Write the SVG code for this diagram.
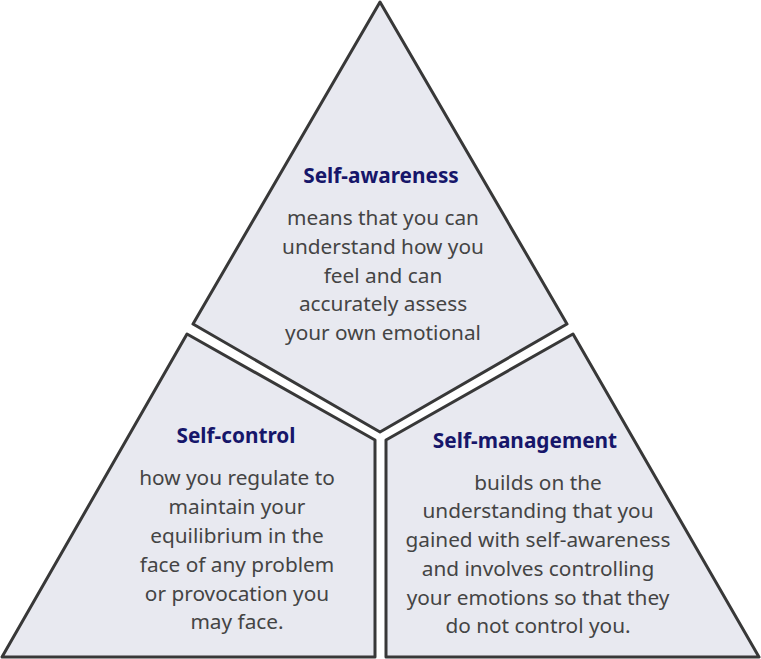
<svg xmlns="http://www.w3.org/2000/svg" width="761" height="659" viewBox="0 0 761 659">
<style>
.shape{fill:#e8e9f0;stroke:#383838;stroke-width:3;stroke-linejoin:round}
.title{font-family:"Noto Sans","Liberation Sans",sans-serif;font-size:20.8px;font-weight:bold;fill:#16166a;text-anchor:middle}
.body{font-family:"Noto Sans","Liberation Sans",sans-serif;font-size:20.8px;fill:#444444;text-anchor:middle}
</style>
<rect width="761" height="659" fill="#ffffff"/>
<g id="self-awareness">
<polygon class="shape" points="380,2 567,324 380,432 193,324"/>
<text class="title" x="381" y="183">Self-awareness</text>
<text class="body" x="383" y="225">means that you can</text>
<text class="body" x="383" y="254">understand how you</text>
<text class="body" x="383" y="283">feel and can</text>
<text class="body" x="383" y="311">accurately assess</text>
<text class="body" x="383" y="340">your own emotional</text>
</g>
<g id="self-control">
<polygon class="shape" points="187,334 375,440 375,657 2,657"/>
<text class="title" x="236" y="443">Self-control</text>
<text class="body" x="237" y="485">how you regulate to</text>
<text class="body" x="237" y="514">maintain your</text>
<text class="body" x="237" y="543">equilibrium in the</text>
<text class="body" x="237" y="572">face of any problem</text>
<text class="body" x="237" y="601">or provocation you</text>
<text class="body" x="237" y="629">may face.</text>
</g>
<g id="self-management">
<polygon class="shape" points="573,334 759,657 386,657 386,440"/>
<text class="title" x="525" y="448">Self-management</text>
<text class="body" x="538" y="490">builds on the</text>
<text class="body" x="538" y="518">understanding that you</text>
<text class="body" x="538" y="547">gained with self-awareness</text>
<text class="body" x="538" y="576">and involves controlling</text>
<text class="body" x="538" y="605">your emotions so that they</text>
<text class="body" x="538" y="633">do not control you.</text>
</g>
<g id="connectors"></g>
</svg>
